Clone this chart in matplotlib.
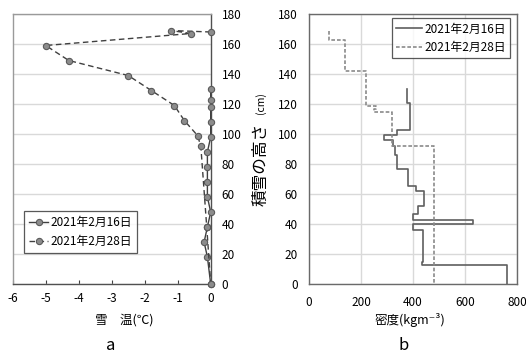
import matplotlib
matplotlib.use("Agg")
import matplotlib.pyplot as plt

plt.rcParams['font.family'] = ['Noto Sans CJK JP', 'DejaVu Sans']
plt.rcParams['axes.unicode_minus'] = False

# ---- panel a: snow temperature profiles ----
t16_temp = [0, 0, 0, 0, 0, -0.1, -0.1, -0.1, -0.1, 0, -0.1, -0.2, -0.1, 0]
t16_height = [130, 123, 118, 108, 98, 88, 78, 68, 58, 48, 38, 28, 18, 0]
t28_temp = [0, -1.2, -0.6, -5.0, -4.3, -2.5, -1.8, -1.1, -0.8, -0.4, -0.3, -0.12, 0]
t28_height = [168, 169, 167, 159, 149, 139, 129, 119, 109, 99, 92, 38, 0]

# ---- panel b: density step profiles (layer density, layer top / bottom) ----
d16_density = [378, 390, 337, 290, 324, 331, 337, 380, 412, 442, 420, 401, 632, 401, 440, 433, 763]
d16_top = [130, 121, 102.7, 99.3, 96, 92, 86, 76.4, 65.3, 62, 52, 47, 43, 40, 36, 15, 12.7]
d16_bottom = d16_top[1:] + [0]
d28_density = [78, 138, 219, 258, 250, 319, 481]
d28_top = [169, 163, 142, 119, 117, 114.4, 92.2]
d28_bottom = d28_top[1:] + [0]

labels = ['2021年2月16日', '2021年2月28日']


def step_xy(dens, tops, bots):
    xs, ys = [], []
    for d, t, b in zip(dens, tops, bots):
        xs += [d, d]
        ys += [t, b]
    return xs, ys


fig = plt.figure(figsize=(5.26, 3.53), dpi=100)
W, H = 526, 353
axa = fig.add_axes([12.7 / W, 1 - 284 / H, 198 / W, 270 / H])
axb = fig.add_axes([309 / W, 1 - 284 / H, 208 / W, 270 / H])

fs = 8.5
grid_c = '#d9d9d9'

# panel a
axa.plot(t16_temp, t16_height, '-', color='#404040', lw=1.0, marker='o', ms=4.5,
         mfc='#8c8c8c', mec='#5a5a5a', mew=0.8, label=labels[0], zorder=3, clip_on=False)
axa.plot(t28_temp, t28_height, color='#404040', lw=1.0, ls=(0, (4, 2.5)), marker='o', ms=4.5,
         mfc='#8c8c8c', mec='#5a5a5a', mew=0.8, label=labels[1], zorder=3, clip_on=False)
axa.set_xlim(-6, 0)
axa.set_ylim(0, 180)
axa.set_xticks(range(-6, 1))
axa.set_yticks(range(0, 181, 20))
axa.yaxis.tick_right()
axa.tick_params(axis='y', length=0, labelsize=fs, pad=8)
axa.tick_params(axis='x', direction='in', length=3, labelsize=fs, pad=6, color='#404040')
axa.grid(axis='y', color=grid_c, lw=1.0)
axa.set_axisbelow(True)
for s in ['left', 'top']:
    axa.spines[s].set_color('#9a9a9a')
for s in ['right', 'bottom']:
    axa.spines[s].set_color('#505050')
for s in axa.spines.values():
    s.set_linewidth(1.0)
lega = axa.legend(loc='lower left', bbox_to_anchor=(0.057, 0.114), borderaxespad=0,
                  fontsize=fs, frameon=True, fancybox=False, edgecolor='#303030',
                  handlelength=1.6, handletextpad=0.2, labelspacing=0.5, borderpad=0.45)
lega.get_frame().set_linewidth(0.9)

# panel b
x16, y16 = step_xy(d16_density, d16_top, d16_bottom)
x28, y28 = step_xy(d28_density, d28_top, d28_bottom)
axb.plot(x16, y16, '-', color='#5f5f5f', lw=1.2, label=labels[0], zorder=3)
axb.plot(x28, y28, color='#8a8a8a', lw=1.2, ls=(0, (2.2, 1.2)), label=labels[1], zorder=3)
axb.set_xlim(0, 800)
axb.set_ylim(0, 180)
axb.set_xticks(range(0, 801, 200))
axb.set_yticks(range(0, 181, 20))
axb.tick_params(length=0, labelsize=fs, pad=8)
axb.tick_params(axis='x', pad=9)
axb.grid(True, color=grid_c, lw=1.0)
axb.set_axisbelow(True)
for s in axb.spines.values():
    s.set_color('#6a6a6a')
    s.set_linewidth(1.0)
legb = axb.legend(loc='upper right', bbox_to_anchor=(0.966, 0.984), borderaxespad=0,
                  fontsize=fs, frameon=True, fancybox=False, edgecolor='#303030',
                  handlelength=2.2, handletextpad=0.2, labelspacing=0.45, borderpad=0.35)
legb.get_frame().set_linewidth(0.9)

# labels
fig.text(124 / W, 1 - 320 / H, '雪\u3000温(℃)', ha='center', va='center', fontsize=fs + 0.5)
fig.text(410 / W, 1 - 320 / H, '密度(kgm⁻³)', ha='center', va='center', fontsize=fs + 0.5,
         family=['Noto Sans CJK JP', 'DejaVu Sans'])
fig.text(261 / W, 1 - 164 / H, '積雪の高さ', ha='center', va='center', rotation=90,
         fontsize=12)
fig.text(261 / W, 1 - 103 / H, '(cm)', ha='center', va='center', rotation=90,
         fontsize=7.5)
fig.text(111 / W, 1 - 345 / H, 'a', ha='center', va='center', fontsize=12)
fig.text(404 / W, 1 - 345 / H, 'b', ha='center', va='center', fontsize=12)

fig.savefig('out.png', dpi=100)
